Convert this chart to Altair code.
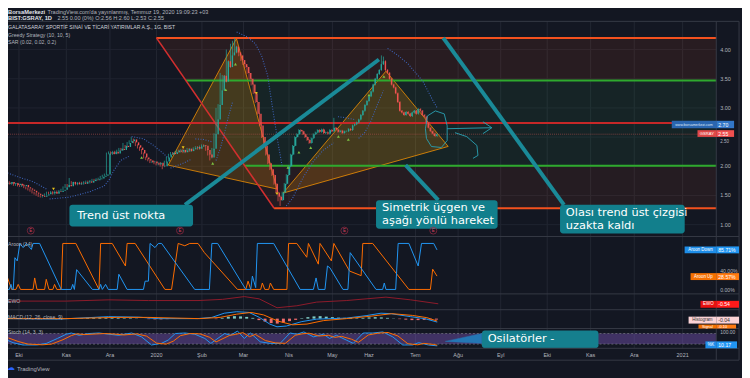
import altair as alt
import pandas as pd

FONT = "Liberation Sans"
NOTE_FONT = "DejaVu Sans"
BG = "#131722"
TXT = "#b2b5be"

# ---------------- price data (daily bars, bar index 0..210) ----------------
closes = [
    1.72, 1.70, 1.73, 1.70, 1.71, 1.68, 1.70, 1.67, 1.66, 1.68,
    1.64, 1.62, 1.60, 1.58, 1.55, 1.53, 1.51, 1.49, 1.48, 1.50,
    1.52, 1.55, 1.54, 1.56, 1.53, 1.57, 1.56, 1.58, 1.60, 1.64,
    1.68, 1.66, 1.73, 1.70, 1.72, 1.69, 1.71, 1.72, 1.70, 1.73,
    1.74, 1.72, 1.75, 1.77, 1.76, 1.78, 1.79, 1.82, 1.84, 1.86,
    2.22, 2.24, 2.21, 2.25, 2.22, 2.27, 2.30, 2.28, 2.35, 2.33,
    2.40, 2.43, 2.46, 2.41, 2.36, 2.32, 2.28, 2.22, 2.15, 2.12,
    2.10, 2.07, 2.08, 2.05, 2.03, 2.06, 2.01, 2.00, 2.08, 2.15,
    2.20, 2.23, 2.21, 2.24, 2.27, 2.25, 2.28, 2.24, 2.27, 2.30,
    2.26, 2.29, 2.31, 2.33, 2.30, 2.34, 2.36, 2.35, 2.28, 2.20,
    2.15, 2.30, 2.55, 2.80, 3.05, 3.30, 3.55, 3.45, 3.80, 3.70,
    3.90, 3.95, 4.05, 3.95, 3.90, 3.82, 3.75, 3.70, 3.60, 3.50,
    3.40, 3.25, 3.10, 2.90, 2.70, 2.50, 2.35, 2.20, 2.05, 1.95,
    1.85, 1.70, 1.55, 1.48, 1.42, 1.55, 1.70, 1.85, 2.00, 2.20,
    2.35, 2.50, 2.55, 2.62, 2.60, 2.55, 2.50, 2.45, 2.40, 2.48,
    2.55, 2.58, 2.62, 2.59, 2.63, 2.57, 2.58, 2.56, 2.62, 2.60,
    2.66, 2.63, 2.59, 2.61, 2.57, 2.60, 2.60, 2.64, 2.62, 2.70,
    2.72, 2.75, 2.80, 2.88, 2.95, 3.05, 3.12, 3.20, 3.28, 3.40,
    3.50, 3.58, 3.65, 3.75, 3.80, 3.65, 3.60, 3.50, 3.40, 3.35,
    3.25, 3.10, 2.95, 2.92, 2.88, 2.93, 2.90, 2.86, 2.92, 2.95,
    2.90, 2.98, 2.95, 2.88, 2.85, 2.75, 2.66, 2.60, 2.56, 2.52,
    2.55,
]
first_open = 1.70
high_spike_idx = [32, 58, 62, 103, 105, 108, 110, 111, 112, 160, 183, 184]
high_spike_val = [1.80, 2.40, 2.50, 3.00, 3.60, 4.00, 4.10, 4.15, 4.20, 2.83, 3.90, 3.88]
low_spike_idx = [77, 100, 133, 134]
low_spike_val = [1.95, 2.10, 1.40, 1.32]

# x-axis month labels (positions in bar index)
month_labels = ["Eki", "Kas", "Ara", "2020", "Şub", "Mar", "Nis", "May", "Haz", "Tem",
                "Ağu", "Eyl", "Eki", "Kas", "Ara", "2021"]
month_pos = [7.7, 30.6, 51.7, 74.2, 96.2, 116.3, 138.3, 159.3, 177.0, 199.5,
             220.1, 240.7, 263.2, 284.2, 305.3, 328.7]
price_ticks = [4.0, 3.5, 3.0, 2.0, 1.5, 1.0]
price_tick_hidden = [2.5]

# ---------------- drawings ----------------
fib_levels = [4.20, 3.47, 2.74, 2.01, 1.28]
fib_start = [74.2, 88.4, 102.7, 116.9, 131.1]   # where the diagonal meets each level
right_edge = 345.0
left_edge = -0.5

tri1 = [(79.9, 2.02), (112.9, 4.19), (132.5, 1.61), (79.9, 2.02)]
tri2 = [(135.4, 1.54), (185.2, 3.63), (215.3, 2.34), (135.4, 1.54)]

teal_lines = [
    [(88.0, 1.34), (181.8, 3.83)],
    [(194.7, 2.02), (210.5, 1.42)],
    [(212.9, 4.20), (271.3, 1.34)],
]
callout_boxes = [  # i0, i1, p0, p1
    (32.1, 91.9, 0.97, 1.34),
    (180.4, 239.2, 0.93, 1.42),
    (269.4, 329.7, 0.85, 1.34),
]
callout_texts = [  # i, p, text
    (35.9, 1.153, "Trend üst nokta"),
    (183.3, 1.288, "Simetrik üçgen ve"),
    (183.3, 1.068, "aşağı yönlü hareket"),
    (272.2, 1.203, "Olası trend üst çizgisi"),
    (272.2, 0.983, "uzakta kaldı"),
]
scribble_loop = [(204.3, 2.644), (205.3, 2.864), (209.1, 2.949), (213.4, 2.898), (214.8, 2.695),
                 (214.8, 2.441), (212.0, 2.322), (207.2, 2.339), (204.8, 2.475), (204.3, 2.644)]
scribble_arrow = [(214.8, 2.644), (236.4, 2.661)]
scribble_head = [(232.1, 2.763), (236.4, 2.661), (232.1, 2.559)]
scribble_hook = [(218.6, 2.576), (224.3, 2.508), (229.2, 2.356), (229.7, 2.186), (227.3, 2.136)]

earn_pos = [13.4, 85.6, 165.1, 208.1]

greedy_down = [(24.4, 1.61), (87.1, 2.32), (122.5, 3.25), (132.5, 1.53)]
greedy_up = [(67.0, 2.15), (101.4, 2.05), (107.7, 3.31), (112.4, 3.75), (137.8, 1.98),
             (143.1, 2.24), (148.8, 2.32), (162.2, 2.51), (167.0, 2.46), (177.0, 3.22), (184.2, 3.54)]

sar_segments = [
    [(1, 1.90), (8, 1.81), (15, 1.73), (21, 1.61)],
    [(22.5, 1.44), (32, 1.47), (41.6, 1.56), (48.8, 1.66), (51.2, 1.76), (53.6, 1.93), (56.9, 2.10), (60.8, 2.17)],
    [(62.2, 2.51), (68, 2.47), (72.7, 2.36), (77.5, 2.22), (79.9, 2.14)],
    [(81, 1.97), (87, 2.05), (91, 2.12)],
    [(93, 2.47), (97, 2.46), (101, 2.42)],
    [(103, 2.10), (105, 2.30), (107, 2.55), (109, 2.85), (111, 3.10)],
    [(113, 4.30), (118, 4.22), (122, 4.10), (125, 3.90), (128, 3.55), (130, 3.08), (133, 2.40), (135, 2.00)],
    [(137, 1.32), (140, 1.45), (145, 1.80), (150, 2.08), (155, 2.28), (160, 2.40)],
    [(162, 2.85), (166, 2.83), (170, 2.80)],
    [(172, 2.48), (175, 2.58), (178, 2.78), (181, 3.05), (184, 3.30)],
    [(186, 4.02), (191, 3.90), (196, 3.75), (203, 3.46), (208, 3.12), (210, 3.00)],
]

# ---------------- indicators ----------------
aroon_down = [(0.16, 0), (3.03, 0), (3.83, 11), (4.47, 0), (4.94, 0), (5.74, 69), (6.86, 62), (8.13, 100),
              (9.73, 91), (11.3, 100), (13.7, 87), (14.5, 100), (17.7, 100), (28.1, 0), (32.9, 0), (33.7, 11),
              (34.5, 0), (35.6, 43), (43.2, 0), (46.4, 0), (47.2, 11), (48.0, 0), (49.6, 11), (50.9, 0),
              (55.2, 0), (56.0, 33), (60.0, 0), (67.9, 0), (68.7, 18), (70.3, 18), (71.1, 100), (73.5, 91),
              (75.1, 100), (76.7, 100), (92.7, 0), (99.8, 0), (101.0, 100), (103.8, 100), (117.4, 0),
              (119.8, 0), (120.6, 29), (122.2, 4), (123.0, 100), (130.9, 100), (143.7, 0), (150.1, 0),
              (151.4, 25), (152.5, 0), (155.7, 0), (156.9, 51), (158.1, 47), (164.4, 0), (166.8, 0),
              (167.9, 80), (180.4, 0), (183.6, 0), (184.4, 14), (185.2, 0), (189.9, 0), (191.1, 100),
              (196.3, 100), (200.8, 51), (202.4, 100), (208.3, 100), (209.9, 86)]
aroon_up = [(0.16, 51), (4.15, 0), (6.22, 0), (7.33, 11), (8.45, 0), (14.5, 0), (15.3, 25), (16.4, 0),
            (20.1, 0), (20.9, 22), (22.2, 0), (24.1, 0), (24.9, 11), (26.0, 0), (28.1, 0), (28.9, 100),
            (35.2, 100), (46.4, 0), (47.2, 100), (52.8, 100), (59.2, 51), (60.0, 100), (63.9, 100),
            (78.3, 0), (81.5, 0), (84.7, 100), (87.9, 95), (90.3, 100), (94.3, 100), (97.4, 80),
            (113.4, 0), (117.4, 0), (118.5, 18), (119.8, 0), (124.6, 0), (125.4, 14), (126.6, 0),
            (128.5, 0), (129.3, 14), (130.9, 0), (137.3, 0), (138.1, 100), (142.1, 100), (146.9, 70),
            (147.7, 100), (152.5, 55), (153.3, 100), (158.8, 62), (160.0, 100), (167.6, 40), (173.2, 30),
            (174.0, 100), (178.8, 100), (196.3, 0), (206.7, 0), (207.8, 44), (209.9, 29)]
ewo = [(1.9, -0.05), (30.6, -0.05), (51.2, 0.18), (70.3, 0.05), (94.3, 0.05), (106.2, 0.27),
       (116.7, 0.77), (123.9, 0.36), (132.5, -1.26), (142.1, -0.90), (151.7, -0.23), (166.0, 0.05),
       (185.2, 0.67), (197.1, 0.18), (210.5, -0.54)]
macd_line = [(1, 0.0), (27, -0.02), (51, 0.08), (65.6, 0.06), (75, 0.0), (94, 0.0), (101, 0.05),
             (107, 0.22), (113, 0.28), (119, 0.25), (124, 0.05), (129, -0.22), (132.5, -0.33),
             (137, -0.30), (144.5, -0.12), (151.7, -0.02), (166, 0.02), (175.6, 0.12), (182.8, 0.22),
             (187.6, 0.20), (197, 0.08), (204, 0.0), (210, -0.14)]
macd_signal = [(1, 0.0), (30, 0.0), (55, 0.05), (70, 0.05), (95, 0.0), (105, 0.05), (113, 0.18),
               (120, 0.25), (126, 0.15), (133, -0.10), (140, -0.25), (147, -0.22), (155, -0.08),
               (166, 0.0), (178, 0.10), (188, 0.20), (198, 0.13), (205, 0.04), (210, -0.10)]
macd_hist = [
    0.00, 0.01, 0.00, -0.01, -0.02, -0.02, -0.01, 0.00, 0.01, 0.01,
    0.02, 0.01, 0.02, 0.03, 0.04, 0.05, 0.04, 0.03, 0.03, 0.02,
    0.02, 0.01, 0.00, -0.02, -0.03, -0.03, -0.02, -0.01, -0.01, 0.00,
    0.00, 0.00, 0.01, 0.00, -0.02, 0.03, 0.08, 0.10, 0.09, 0.07,
    0.03, -0.06, -0.12, -0.18, -0.20, -0.16, -0.10, -0.05, 0.02, 0.06,
    0.09, 0.10, 0.08, 0.06, 0.04, 0.03, 0.03, 0.02, 0.03, 0.05,
    0.06, 0.05, 0.03, 0.01, -0.02, -0.04, -0.06, -0.06, -0.05, -0.04,
    -0.04,
]
stoch_k = [(0.1, 52), (4.8, 28), (9.6, 15), (16.3, 15), (21, 24), (26.3, 52), (30.6, 76), (33, 83),
           (36.8, 70), (41.6, 80), (46.4, 83), (51.2, 76), (56, 70), (62.2, 83), (67, 61), (71.8, 15),
           (76.6, 24), (79.9, 43), (83.3, 80), (88, 83), (92.8, 76), (97.6, 52), (100.5, 24), (107.2, 80),
           (110, 70), (113.4, 94), (116.7, 52), (119.6, 83), (124.4, 33), (129.2, 24), (134, 24),
           (138.8, 83), (142.1, 76), (145.5, 89), (150.2, 61), (155, 76), (157.9, 52), (161.2, 70),
           (166, 43), (169.4, 24), (174.2, 83), (178.9, 83), (183.7, 89), (188.5, 61), (193.3, 15),
           (198.1, 15), (201, 28), (205.7, 15), (210, 10)]
stoch_d = [(2.6, 55), (7.3, 35), (12, 20), (19, 16), (23.5, 20), (29, 45), (33, 68), (35.5, 78),
           (39.3, 74), (44, 77), (49, 80), (53.7, 77), (58.5, 72), (64.7, 78), (69.5, 65), (74.3, 25),
           (79, 20), (82.4, 37), (85.8, 68), (90.5, 80), (95.3, 78), (100, 58), (103, 32), (109.7, 70),
           (112.5, 75), (116, 85), (119.2, 62), (122, 75), (126.9, 40), (131.7, 27), (136.5, 24),
           (141.3, 70), (144.6, 78), (148, 82), (152.7, 66), (157.5, 70), (160.4, 58), (163.7, 64),
           (168.5, 48), (171.9, 30), (176.7, 72), (181.4, 82), (186.2, 86), (191, 66), (195.8, 22),
           (200.6, 16), (203.5, 24), (208.2, 18), (210, 14)]
osc_box = (231.6, 288.0, -4, 97)
osc_wedge = [(231.6, 80.3), (213.9, 35.4), (231.6, 24.2), (231.6, 80.3)]

# ---------------- scales ----------------
X_SC = dict(domain=[0, 360], range=[-5, 747.4])
SC = {
    "price": ([1, 4], [217, 40]),
    "aroon": ([0, 100], [282.5, 236]),
    "ewo": ([-1, 1], [299.56, 288.44]),
    "macd": ([-0.4, 0.4], [322, 302]),
    "stoch": ([0, 100], [341.3, 323.5]),
}


def xe(f="i"):
    return alt.X(f"{f}:Q", scale=alt.Scale(nice=False, zero=False, **X_SC), axis=None)


def ye(f, name):
    d, r = SC[name]
    return alt.Y(f"{f}:Q", scale=alt.Scale(domain=d, range=r, nice=False, zero=False), axis=None)


def vert_df(pts, key="seg"):
    rows = []
    for s, seg in enumerate(pts):
        for k, (a, b) in enumerate(seg):
            rows.append({"i": a, "v": b, key: s, "k": k})
    return pd.DataFrame(rows)


def path(pts_list, name, **mk):
    df = vert_df(pts_list)
    return alt.Chart(df).mark_line(**mk).encode(
        x=xe("i"), y=ye("v", name), order="k:Q", detail="seg:N")


def ptext(rows, align="left", weight="normal", font=FONT):
    df = pd.DataFrame(rows, columns=["x", "y", "t", "s", "c"])
    return alt.Chart(df).mark_text(align=align, baseline="middle", font=font, fontWeight=weight).encode(
        x=alt.X("x:Q", scale=None), y=alt.Y("y:Q", scale=None), text="t:N",
        size=alt.Size("s:Q", scale=None, legend=None), color=alt.Color("c:N", scale=None, legend=None))


def prect(rows):
    df = pd.DataFrame(rows, columns=["x", "x2", "y", "y2", "c"])
    return alt.Chart(df).mark_rect().encode(
        x=alt.X("x:Q", scale=None), x2="x2:Q", y=alt.Y("y:Q", scale=None), y2="y2:Q",
        color=alt.Color("c:N", scale=None, legend=None))


layers = []

# grid
layers.append(alt.Chart(pd.DataFrame({"i": month_pos})).mark_rule(color="#222633", strokeWidth=1).encode(
    x=xe("i"), y=alt.value(11.5), y2=alt.value(342)))
layers.append(alt.Chart(pd.DataFrame({"p": price_ticks + price_tick_hidden})).mark_rule(
    color="#1f2330", strokeWidth=1).encode(y=ye("p", "price"), x=alt.value(-6), x2=alt.value(716)))

# fib bands
band_rows = []
band_def = [(0, 1, "#ff5722", 0), (1, 3, "#2e9e4f", 1), (3, 4, "#ff5722", 2)]
for a, b, col, bid in band_def:
    band_rows.append({"p": fib_levels[a], "xa": fib_start[a], "xb": right_edge, "band": bid, "c": col})
    band_rows.append({"p": fib_levels[b], "xa": fib_start[b], "xb": right_edge, "band": bid, "c": col})
bdf = pd.DataFrame(band_rows)
for bid, op in [(0, 0.09), (1, 0.10), (2, 0.08)]:
    layers.append(alt.Chart(bdf[bdf.band == bid]).mark_area(orient="horizontal", opacity=op,
                  color=bdf[bdf.band == bid].c.iloc[0]).encode(
        y=ye("p", "price"), x=xe("xa"), x2="xb:Q"))

# triangles
layers.append(path([tri1, tri2], "price", fill="#ff9800", fillOpacity=0.2, stroke="#ff9800",
                   strokeOpacity=0.75, strokeWidth=1))

# level lines
lvl_rows = [
    (fib_start[0], right_edge, fib_levels[0], "#f4511e", 2),
    (fib_start[1], right_edge, fib_levels[1], "#2eaa2e", 2),
    (left_edge, right_edge, fib_levels[2], "#c62828", 2),
    (fib_start[3], right_edge, fib_levels[3], "#2eaa2e", 2),
    (fib_start[4], right_edge, fib_levels[4], "#f4511e", 2),
]
for a, b, p, col, w in lvl_rows:
    layers.append(alt.Chart(pd.DataFrame({"a": [a], "b": [b], "p": [p]})).mark_rule(
        color=col, strokeWidth=w).encode(x=xe("a"), x2="b:Q", y=ye("p", "price")))
layers.append(path([[(fib_start[0], fib_levels[0]), (fib_start[4], fib_levels[4])]], "price",
                   color="#d32f2f", strokeWidth=1.6))
# last price line
layers.append(alt.Chart(pd.DataFrame({"a": [left_edge], "b": [right_edge], "p": [closes[-1]]})).mark_rule(
    color="#b0504e", strokeWidth=0.8, strokeDash=[1, 1], opacity=0.8).encode(
    x=xe("a"), x2="b:Q", y=ye("p", "price")))

# SAR
layers.append(path(sar_segments, "price", color="#3d63b8", strokeWidth=1.1, strokeDash=[1, 1.6]))

# candles
N = len(closes)
opens = [first_open] + closes[:-1]
highs = [max(o, c) + 0.015 for o, c in zip(opens, closes)]
lows = [min(o, c) - 0.015 for o, c in zip(opens, closes)]
for k, v in zip(high_spike_idx, high_spike_val):
    highs[k] = v
for k, v in zip(low_spike_idx, low_spike_val):
    lows[k] = v
cdf = pd.DataFrame({"i": list(range(N)), "o": opens, "c": closes, "h": highs, "l": lows})
cdf["col"] = ["#26a69a" if c >= o else "#ef5350" for o, c in zip(opens, closes)]
layers.append(alt.Chart(cdf).mark_rule(strokeWidth=0.7).encode(
    x=xe("i"), y=ye("l", "price"), y2="h:Q", color=alt.Color("col:N", scale=None, legend=None)))
layers.append(alt.Chart(cdf).mark_bar(size=1.4).encode(
    x=xe("i"), y=ye("o", "price"), y2="c:Q", color=alt.Color("col:N", scale=None, legend=None)))

# greedy strategy markers
gd = pd.DataFrame(greedy_down, columns=["i", "p"])
gu = pd.DataFrame(greedy_up, columns=["i", "p"])
layers.append(alt.Chart(gd).mark_point(shape="triangle-down", filled=True, size=9, color="#e8c21a",
                                      opacity=1).encode(x=xe("i"), y=ye("p", "price")))
layers.append(alt.Chart(gu).mark_point(shape="triangle-up", filled=True, size=9, color="#7cc242",
                                      opacity=1).encode(x=xe("i"), y=ye("p", "price")))

# scribbles
layers.append(path([scribble_loop, scribble_arrow, scribble_head, scribble_hook], "price",
                   color="#2aa3b5", strokeWidth=0.9))

# teal callouts
layers.append(path(teal_lines, "price", color="#1a8a98", strokeWidth=4, strokeCap="butt"))
cb = pd.DataFrame(callout_boxes, columns=["a", "b", "p0", "p1"])
layers.append(alt.Chart(cb).mark_rect(color="#127f8c", cornerRadius=3).encode(
    x=xe("a"), x2="b:Q", y=ye("p0", "price"), y2="p1:Q"))
ct = pd.DataFrame(callout_texts, columns=["i", "p", "t"])
layers.append(alt.Chart(ct).mark_text(align="left", baseline="middle", font=NOTE_FONT, fontSize=11.5,
                                      color="#ffffff").encode(x=xe("i"), y=ye("p", "price"), text="t:N"))

# earnings markers
edf = pd.DataFrame({"i": earn_pos, "t": ["E"] * len(earn_pos)})
layers.append(alt.Chart(edf).mark_point(shape="circle", size=50, filled=False, color="#9c2a44",
                                        strokeWidth=1).encode(x=xe("i"), y=alt.value(223)))
layers.append(alt.Chart(edf).mark_text(fontSize=4.5, font=FONT, color="#d04060").encode(
    x=xe("i"), y=alt.value(223.3), text="t:N"))

# ---------- lower panes ----------
layers.append(path([aroon_up], "aroon", color="#ff6d00", strokeWidth=1))
layers.append(path([aroon_down], "aroon", color="#2196f3", strokeWidth=1))
layers.append(path([ewo], "ewo", color="#8e1b2a", strokeWidth=1))

hdf = pd.DataFrame({"i": list(range(0, 3 * len(macd_hist), 3)), "h": macd_hist})
hdf["z"] = 0.0
hdf["col"] = ["#80cbc4" if v >= 0 else "#ef6c6c" for v in macd_hist]
layers.append(alt.Chart(hdf).mark_bar(size=3).encode(
    x=xe("i"), y=ye("z", "macd"), y2="h:Q", color=alt.Color("col:N", scale=None, legend=None)))
layers.append(path([macd_line], "macd", color="#2196f3", strokeWidth=1))
layers.append(path([macd_signal], "macd", color="#ff6d00", strokeWidth=1))

sb = pd.DataFrame({"a": [left_edge], "b": [right_edge], "v0": [20], "v1": [80]})
layers.append(alt.Chart(sb).mark_rect(color="#7e57c2", opacity=0.42).encode(
    x=xe("a"), x2="b:Q", y=ye("v0", "stoch"), y2="v1:Q"))
sl = pd.DataFrame({"a": [left_edge, left_edge], "b": [right_edge, right_edge], "v": [20, 80]})
layers.append(alt.Chart(sl).mark_rule(color="#787b86", strokeDash=[2, 2], strokeWidth=0.7).encode(
    x=xe("a"), x2="b:Q", y=ye("v", "stoch")))
layers.append(path([stoch_k], "stoch", color="#2196f3", strokeWidth=1))
layers.append(path([stoch_d], "stoch", color="#ff6d00", strokeWidth=1))

# oscillator callout
ob = pd.DataFrame({"a": [osc_box[0]], "b": [osc_box[1]], "v0": [osc_box[2]], "v1": [osc_box[3]]})
layers.append(path([osc_wedge], "stoch", fill="#2477b5", stroke="#2477b5", strokeWidth=0.5))
layers.append(alt.Chart(ob).mark_rect(color="#157f8e", cornerRadius=3).encode(
    x=xe("a"), x2="b:Q", y=ye("v0", "stoch"), y2="v1:Q"))
layers.append(alt.Chart(pd.DataFrame({"i": [234.4], "v": [48], "t": ["Osilatörler -"]})).mark_text(
    align="left", baseline="middle", font=NOTE_FONT, fontSize=11.5, color="#ffffff").encode(
    x=xe("i"), y=ye("v", "stoch"), text="t:N"))

# ---------- separators ----------
sep = pd.DataFrame({"y": [11.5, 229, 287, 303, 322, 342, 354]})
layers.append(alt.Chart(sep).mark_rule(color="#363a45", strokeWidth=1).encode(
    y=alt.Y("y:Q", scale=None), x=alt.value(-6), x2=alt.value(739)))
vsep = pd.DataFrame({"x": [716, 739]})
layers.append(alt.Chart(vsep).mark_rule(color="#363a45", strokeWidth=1).encode(
    x=alt.X("x:Q", scale=None), y=alt.value(11.5), y2=alt.value(354)))

# ---------- axis labels ----------
pt = pd.DataFrame({"p": price_ticks, "t": [f"{v:.2f}" for v in price_ticks]})
layers.append(alt.Chart(pt).mark_text(align="left", baseline="middle", font=FONT, fontSize=5.5,
                                      color=TXT).encode(x=alt.value(720), y=ye("p", "price"), text="t:N"))
# 2.50 label sits just under the last-price tag, as in the reference
pth = pd.DataFrame({"p": price_tick_hidden, "t": [f"{v:.2f}" for v in price_tick_hidden]})
layers.append(alt.Chart(pth).mark_text(align="left", baseline="top", font=FONT, fontSize=4.5, dy=1.6,
                                       color=TXT).encode(x=alt.value(720), y=ye("p", "price"), text="t:N"))
mdf = pd.DataFrame({"i": month_pos, "t": month_labels})
layers.append(alt.Chart(mdf).mark_text(align="center", baseline="middle", font=FONT, fontSize=5.5,
                                       color=TXT).encode(x=xe("i"), y=alt.value(349), text="t:N"))

# label boxes on the right
layers.append(prect([
    (671, 716, 112, 119.5, "#2a66b0"), (716, 734, 112, 119.5, "#3277c8"),
    (697, 716, 121.5, 128.3, "#e04848"), (716, 734, 121.5, 128.3, "#f05050"),
    (684, 716, 239, 246, "#1e8de8"), (716, 739, 239, 246, "#2196f3"),
    (690, 716, 266, 273, "#f57000"), (716, 739, 266, 273, "#ff7a10"),
    (700, 716, 294, 301, "#e81010"), (716, 739, 294, 301, "#ff1a1a"),
    (688, 716, 310, 317, "#fbd3d6"), (716, 739, 310, 317, "#fbd3d6"),
    (698, 716, 318, 322, "#f57000"), (716, 736, 318, 322, "#ff7a10"),
    (705, 716, 335, 342, "#1e8de8"), (716, 737, 335, 342, "#2196f3"),
]))
layers.append(ptext([
    (693.5, 115.8, "www.borsamerkezi.com", 3.6, "#dfe6f5"),
    (706.5, 125, "GSRAY", 4.2, "#ffffff"),
    (700, 242.5, "Aroon Down", 4.5, "#ffffff"),
    (703, 269.5, "Aroon Up", 4.5, "#ffffff"),
    (708, 297.5, "EWO", 4.5, "#ffffff"),
    (702, 313.5, "Histogram", 4.5, "#333333"),
    (707, 320.2, "Signal", 4.0, "#ffffff"),
    (710.5, 338.5, "%K", 4.5, "#ffffff"),
], align="center"))
layers.append(ptext([
    (718, 115.8, "2.70", 5.2, "#ffffff"),
    (718, 125, "2.55", 5.2, "#ffffff"),
    (718, 242.5, "85.71%", 5.2, "#ffffff"),
    (718, 269.5, "28.57%", 5.2, "#ffffff"),
    (720, 264, "40.00%", 5.2, TXT),
    (720, 283, "0.00%", 5.2, TXT),
    (718, 297.5, "-0.54", 5.2, "#ffffff"),
    (718, 313.5, "-0.04", 5.2, "#333333"),
    (718, 320.2, "-0.10", 4.0, "#ffffff"),
    (720, 326, "100.00", 5.0, TXT),
    (718, 338.5, "10.17", 5.2, "#ffffff"),
]))

# ---------- header / titles ----------
layers.append(ptext([
    (0, 2.5, "BorsaMerkezi", 5.8, "#e0e3eb"),
    (0, 8.5, "BIST:GSRAY, 1D", 5.8, "#e0e3eb"),
], weight="bold"))
layers.append(ptext([
    (40, 2.5, "TradingView.com'da yayınlanmış, Temmuz 19, 2020 19:09:23 +03", 5.6, TXT),
    (50, 8.5, "2.55 0.00 (0%) O:2.56 H:2.60 L:2.53 C:2.55", 5.6, TXT),
    (0, 17, "GALATASARAY SPORTİF SINAİ VE TİCARİ YATIRIMLAR A.Ş., 1G, BIST", 5.2, "#d1d4dc"),
    (0, 25, "Greedy Strategy (10, 10, 5)", 5.2, TXT),
    (0, 32, "SAR (0.02, 0.02, 0.2)", 5.2, TXT),
    (0, 237, "Aroon (14)", 5.2, TXT),
    (0, 294, "EWO", 5.2, TXT),
    (0, 310, "MACD (12, 26, close, 9)", 5.2, TXT),
    (0, 326, "Stoch (14, 3, 3)", 5.2, TXT),
    (9, 362.5, "TradingView", 6, TXT),
]))
layers.append(ptext([(3, 362, "☁", 8, "#2962ff")], align="center", font="DejaVu Sans"))

chart = alt.layer(*layers).resolve_scale(x="independent", y="independent").properties(
    width=742, height=370, background=BG, padding=0,
    autosize=alt.AutoSizeParams(type="none"),
).configure_view(stroke=None)

chart.save("out.html", embed_options={"renderer": "svg", "actions": False})
